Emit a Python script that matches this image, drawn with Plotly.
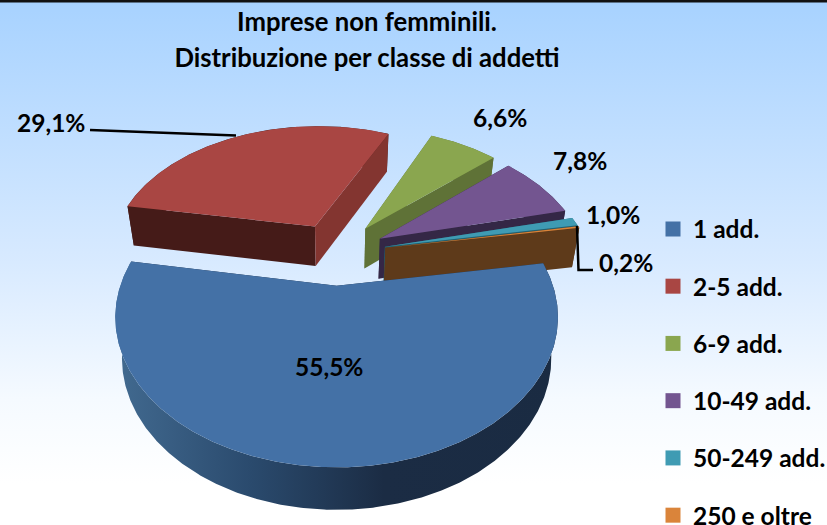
import numpy as np
import plotly.graph_objects as go

# ---- data ----
title_line1 = "Imprese non femminili."
title_line2 = "Distribuzione per classe di addetti"
categories = ["1 add.", "2-5 add.", "6-9 add.", "10-49 add.", "50-249 add.", "250 e oltre"]
values = [55.5, 29.1, 6.6, 7.8, 1.0, 0.2]
labels = ["55,5%", "29,1%", "6,6%", "7,8%", "1,0%", "0,2%"]

# ---- style ----
top_colors = ["#4471a6", "#a94643", "#8aa64f", "#735590", "#3f9bb3", "#da843a"]
start_face = ["#1a2b42", "#451b18", "#5f7237", "#342746", "#24606f", "#5e3a1a"]
end_face = ["#1a2b42", "#833530", "#5f7237", "#342746", "#24606f", "#5e3a1a"]
rim_color = ["#1a2b42", "#451b18", "#5f7237", "#342746", "#24606f", "#5e3a1a"]
label_pos = [(329, 366), (51, 122), (500, 117), (580, 160), (613, 214), (626, 262)]
FONT = "Lato"

# ---- 3D pie projection ----
FIRST_ANGLE = 80.7
EXPLODE = 0.24
X0, Y0, RX, RY, K = 337, 253, 206, 130, 0.2


def project(u, v):
    f = 1 + K * v
    return X0 + RX * u / f, Y0 - RY * v / f


def lower(x, y, v):
    return X0 + (x - X0) * 0.97, y + 40 - 2 * v


fig = go.Figure()

# background
fig.add_trace(go.Scatter(
    x=[0, 827, 827, 0, 0], y=[0, 0, 525, 525, 0], mode="lines", fill="toself",
    line=dict(width=0), hoverinfo="skip", showlegend=False,
    fillgradient=dict(type="vertical", start=0, stop=525,
                      colorscale=[[0, "#a7d2ff"], [0.5, "#d8eaff"], [0.76, "#f5faff"], [0.92, "#ffffff"], [1, "#ffffff"]]),
))


def poly(xs, ys, color=None, gradient=None):
    kw = dict(fillgradient=gradient) if gradient else dict(fillcolor=color)
    fig.add_trace(go.Scatter(x=list(xs) + [xs[0]], y=list(ys) + [ys[0]], mode="lines", fill="toself",
                             line=dict(width=0), hoverinfo="skip", showlegend=False, **kw))


total = sum(values)
spans = []
a = FIRST_ANGLE
for val in values:
    spans.append((a, a + val * 360 / total))
    a = spans[-1][1]

rim_gradient = dict(type="horizontal", start=120, stop=560,
                    colorscale=[[0, "#41698f"], [0.3, "#2a4a6d"], [0.6, "#1b2c44"], [1, "#1a2b42"]])

for i in [1, 2, 3, 4, 5, 0]:
    a0, a1 = spans[i]
    mid = np.radians((a0 + a1) / 2)
    ou, ov = EXPLODE * np.sin(mid), EXPLODE * np.cos(mid)
    th = np.radians(np.linspace(a0, a1, max(3, int((a1 - a0) * 2))))
    u = ou + np.sin(th)
    v = ov + np.cos(th)
    ax, ay = project(u, v)
    bx, by = lower(ax, ay, v)
    cx, cy = project(ou, ov)
    dx, dy = lower(cx, cy, ov)
    # rim
    poly(list(ax) + list(bx[::-1]), list(ay) + list(by[::-1]),
         color=rim_color[i], gradient=rim_gradient if i == 0 else None)
    # radial faces
    poly([cx, ax[0], bx[0], dx], [cy, ay[0], by[0], dy], color=start_face[i])
    poly([cx, ax[-1], bx[-1], dx], [cy, ay[-1], by[-1], dy], color=end_face[i])
    # top
    poly([cx] + list(ax), [cy] + list(ay), color=top_colors[i])

# legend entries
for i, name in enumerate(categories):
    fig.add_trace(go.Scatter(x=[None], y=[None], mode="markers", name=name, legendgroup=name,
                             marker=dict(symbol="square", size=15, color=top_colors[i])))

annotations = [
    dict(x=x, y=y, text=t, showarrow=False, xref="x", yref="y", xanchor="center", yanchor="middle",
         font=dict(family=FONT, size=24.5, color="#000000", weight=700))
    for t, (x, y) in zip(labels, label_pos)
]

line_style = dict(color="#000000", width=2.5)
shapes = [
    dict(type="rect", xref="x", yref="y", x0=0, x1=827, y0=0, y1=2.5, fillcolor="#111111", line=dict(width=0)),
    dict(type="line", xref="x", yref="y", x0=90, y0=130, x1=236, y1=135.5, line=line_style),
    dict(type="path", xref="x", yref="y", path="M 577 226 L 578.5 270 L 593 270", line=line_style),
]

title_html = f'<span style="font-size:25.7px">{title_line1}</span><br><span style="font-size:25.7px">{title_line2}</span>'

fig.update_layout(
    width=827, height=525, margin=dict(l=0, r=0, t=0, b=0, pad=0, autoexpand=False),
    paper_bgcolor="#ffffff", plot_bgcolor="#ffffff",
    font=dict(family=FONT, color="#000000"),
    title=dict(text=title_html, x=367 / 827, xanchor="center", y=1 - 31 / 525, yanchor="middle",
               font=dict(family=FONT, size=27.7, color="#000000", weight=700)),
    xaxis=dict(range=[0, 827], visible=False, fixedrange=True),
    yaxis=dict(range=[525, 0], visible=False, fixedrange=True),
    legend=dict(x=653 / 827, y=1 - 206.5 / 525, xanchor="left", yanchor="top", bgcolor="rgba(0,0,0,0)",
                tracegroupgap=22.4, itemsizing="trace", itemwidth=30,
                font=dict(family=FONT, size=24.5, color="#000000", weight=700)),
    annotations=annotations, shapes=shapes, showlegend=True,
)

fig.write_html("out.html", config={"displayModeBar": False}, post_script="document.body.style.margin='0';")
